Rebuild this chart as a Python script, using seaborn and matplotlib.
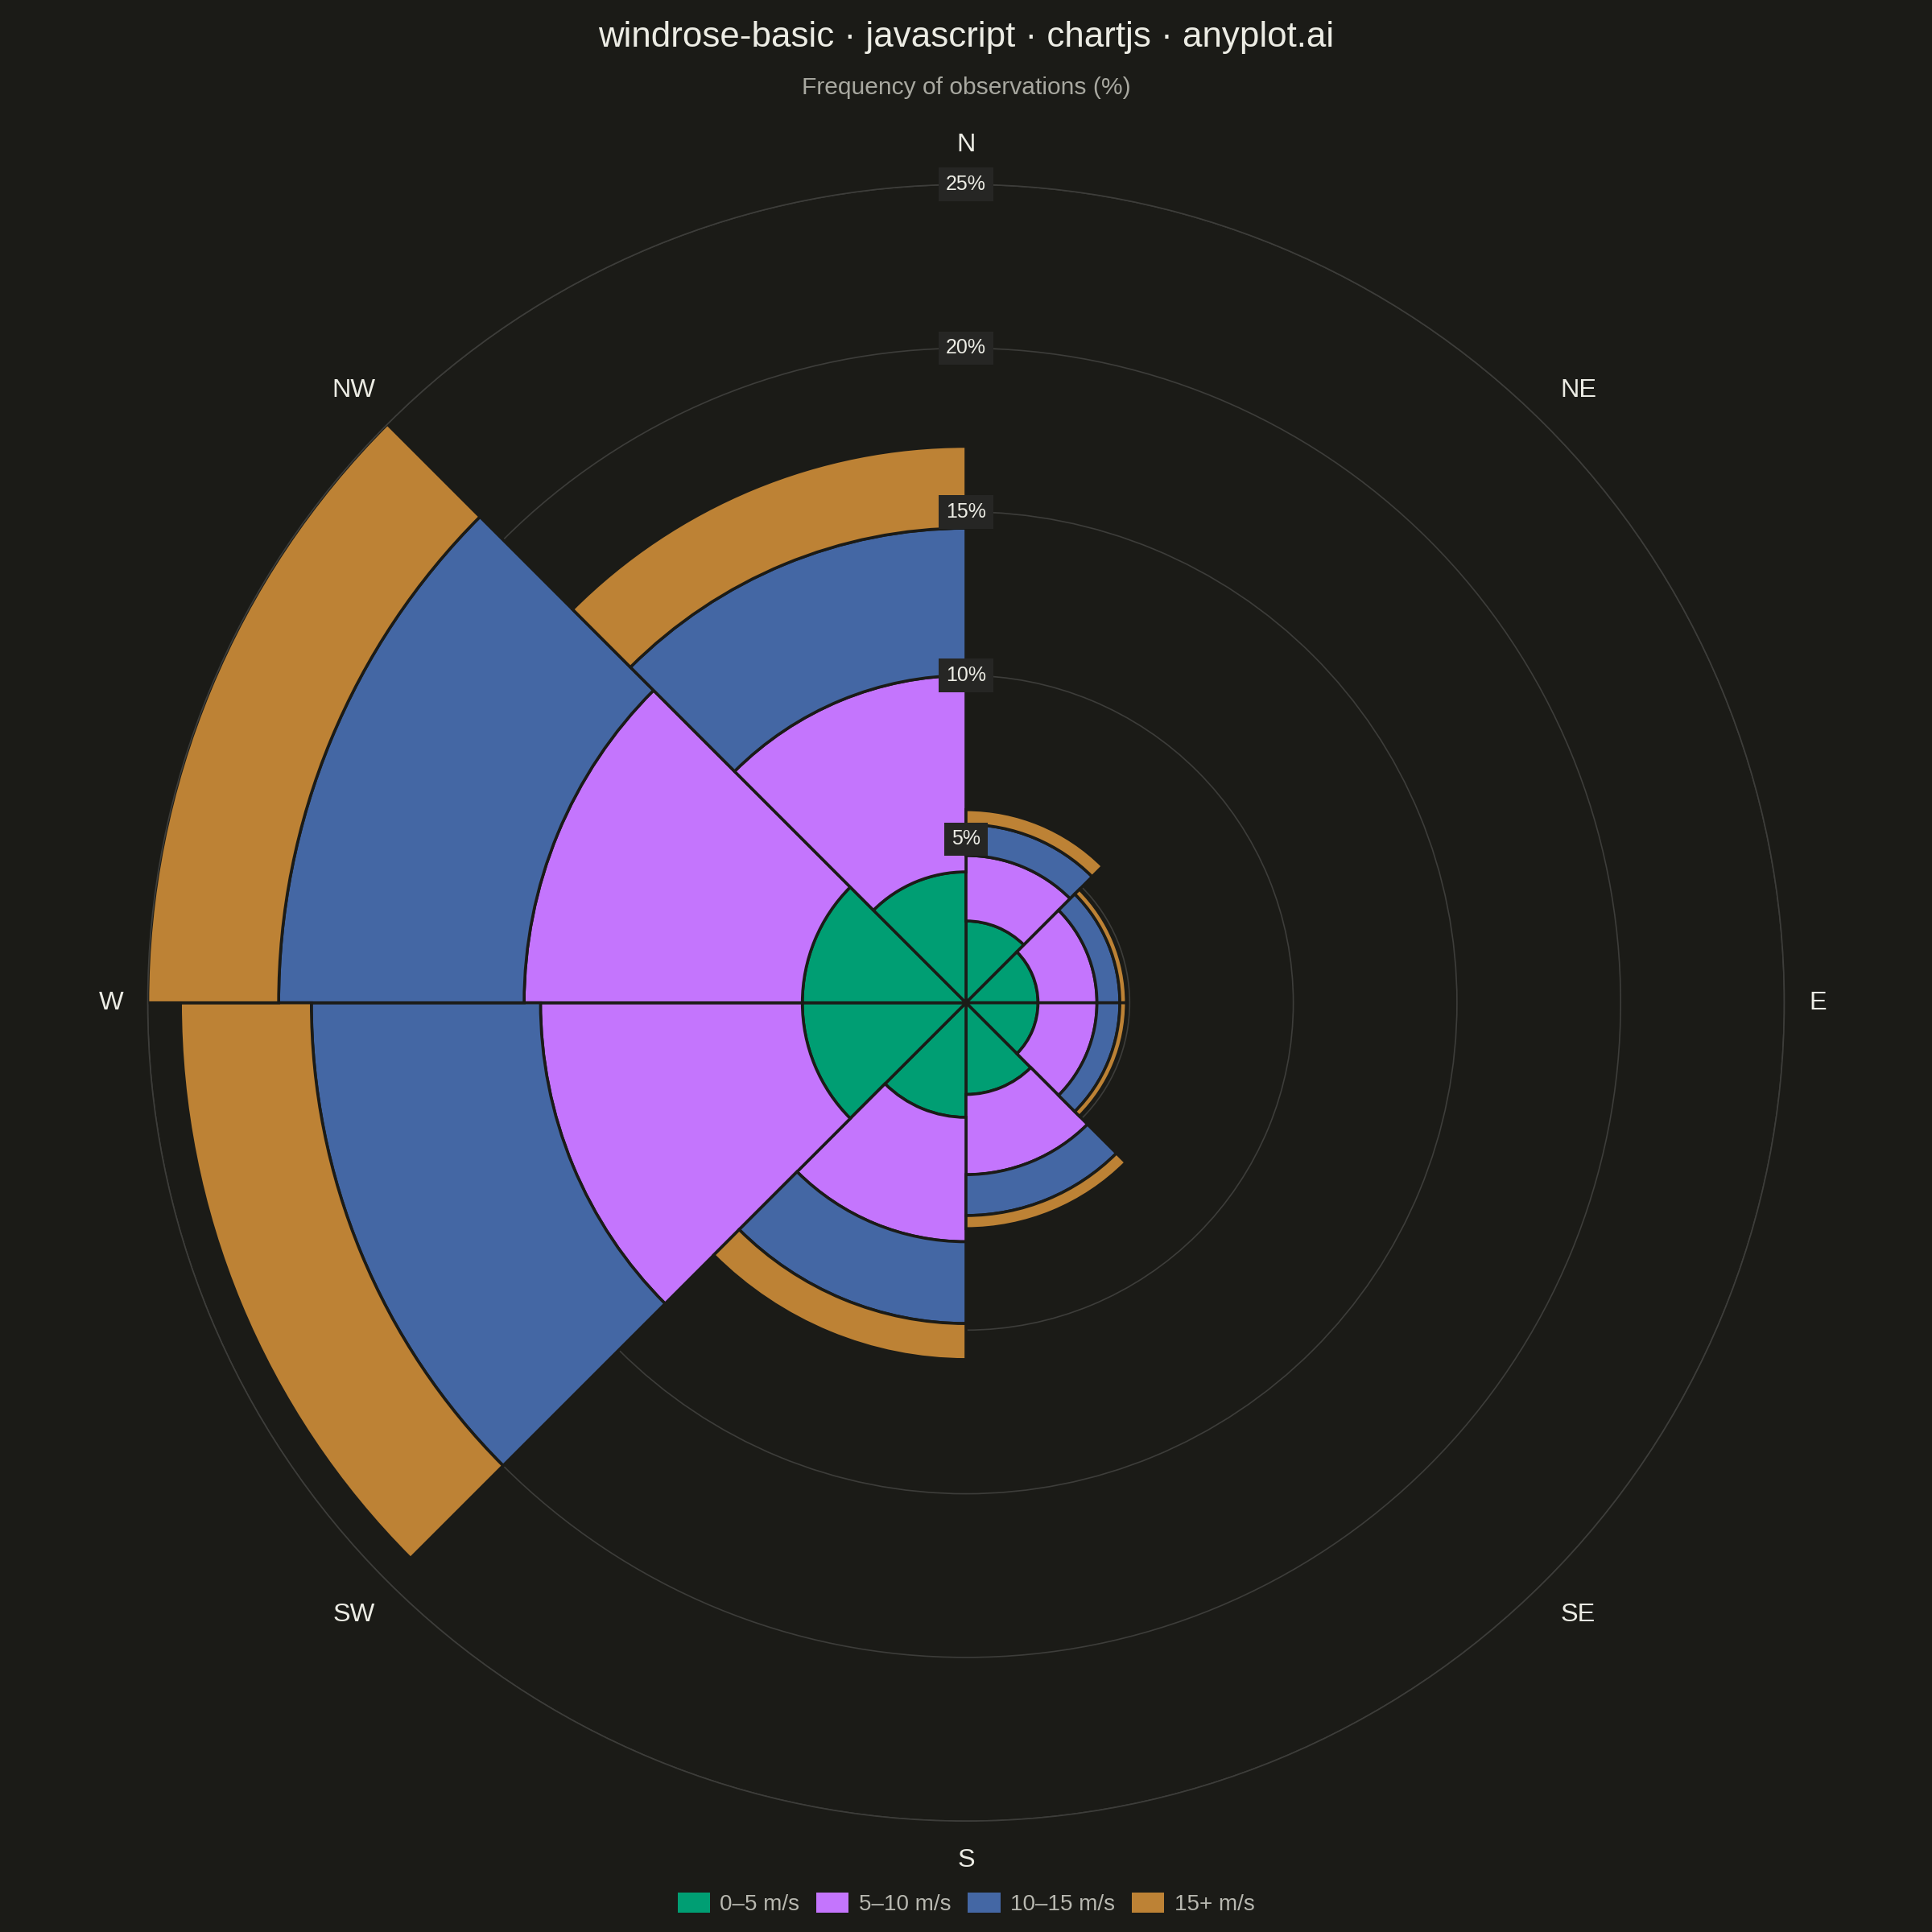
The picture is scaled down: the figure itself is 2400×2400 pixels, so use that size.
import numpy as np
import matplotlib
matplotlib.use("Agg")
import matplotlib.pyplot as plt
from matplotlib.patches import Patch
import seaborn as sns

# data: frequency (%) per direction and speed bin
directions = ['N', 'NE', 'E', 'SE', 'S', 'SW', 'W', 'NW']
speed_bins = ['0–5 m/s', '5–10 m/s', '10–15 m/s', '15+ m/s']
calm = [2.5, 2.2, 2.2, 2.8, 3.5, 5.0, 5.0, 4.0]
moderate = [2.0, 1.8, 1.8, 2.45, 3.8, 8.0, 8.5, 6.0]
fresh = [0.95, 0.7, 0.7, 1.25, 2.5, 7.0, 7.5, 4.5]
strong = [0.45, 0.2, 0.2, 0.4, 1.1, 4.0, 4.0, 2.5]
ring_ticks = [5, 10, 15, 20, 25]

bg = '#1b1b17'
palette = sns.color_palette(['#009e73', '#c475fd', '#4467a4', '#bd8235'])

sns.set_theme(style='dark', rc={'axes.facecolor': bg, 'figure.facecolor': bg,
                                'savefig.facecolor': bg})
plt.rcParams['font.family'] = ['Liberation Sans', 'DejaVu Sans']

fig = plt.figure(figsize=(12, 12), dpi=200)
ax = fig.add_axes([0.07646, 0.05742, 0.84708, 0.84708], projection='polar')
ax.set_theta_zero_location('N')
ax.set_theta_direction(-1)
ax.set_axisbelow(True)

angles = np.deg2rad(np.arange(len(directions)) * 45)
width = np.deg2rad(45)

bottom = np.zeros(len(directions))
for series, color in zip([calm, moderate, fresh, strong], palette):
    vals = np.array(series)
    ax.bar(angles, vals, width=width, bottom=bottom, align='edge',
           color=color, edgecolor=bg, linewidth=1.3, zorder=2)
    bottom += vals

ax.set_ylim(0, 25)
ax.set_yticks(ring_ticks)
ax.set_yticklabels([])
ax.set_xticks([])
ax.grid(False, axis='x')
ax.yaxis.grid(True, color='#3d3d3a', linewidth=0.6)
ax.spines['polar'].set_color('#3d3d3a')
ax.spines['polar'].set_linewidth(0.6)

# ring labels on the north axis
for r in ring_ticks:
    ax.text(0, r, f'{r}%', ha='center', va='center', fontsize=9,
            color='#ecece4', zorder=5,
            bbox=dict(boxstyle='square,pad=0.35', fc='#262624', ec='none'))

# compass labels
for a, d in zip(angles, directions):
    if d == 'E':
        lr, ha = 25.75, 'left'
    elif d == 'W':
        lr, ha = 25.75, 'right'
    elif d in ('N', 'S'):
        lr, ha = 26.2, 'center'
    else:
        lr, ha = 26.45, 'center'
    ax.text(a, lr, d, ha=ha, va='center', fontsize=11.7,
            color='#ecece4', clip_on=False)

fig.text(0.5, 0.9805, 'windrose-basic · javascript · chartjs · anyplot.ai',
         ha='center', va='center', fontsize=15.8, color='#ecece4')
fig.text(0.5, 0.9546, 'Frequency of observations (%)',
         ha='center', va='center', fontsize=10.8, color='#a8a8a0')

handles = [Patch(facecolor=c, edgecolor='none') for c in palette]
fig.legend(handles, speed_bins, loc='center', bbox_to_anchor=(0.5, 0.0146),
           ncol=4, frameon=False, fontsize=10, labelcolor='#b8b8b0',
           handlelength=1.45, handleheight=1.0, handletextpad=0.45,
           columnspacing=0.75)

fig.savefig('out.png', dpi=200, facecolor=bg)
